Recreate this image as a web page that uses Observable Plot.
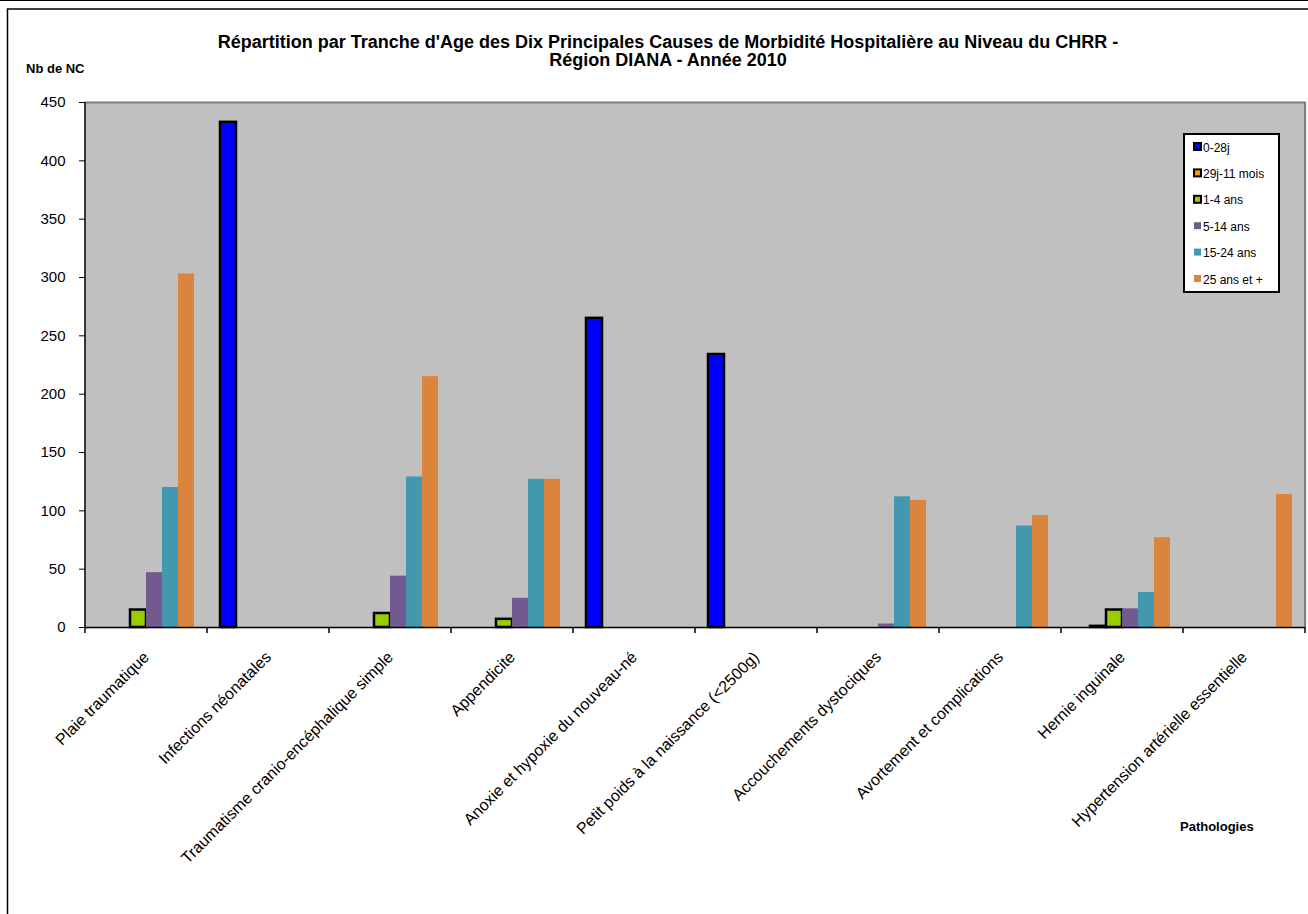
<!DOCTYPE html>
<html>
<head>
<meta charset="utf-8">
<script src="https://cdn.jsdelivr.net/npm/d3@7"></script>
<script src="https://cdn.jsdelivr.net/npm/@observablehq/plot@0.6"></script>
<style>
  html, body { margin: 0; padding: 0; background: #fff; }
  #chart svg { display: block; }
</style>
</head>
<body>
<div id="chart"></div>
<script>
// ---- Data ----
const categories = [
  "Plaie traumatique",
  "Infections néonatales",
  "Traumatisme cranio-encéphalique simple",
  "Appendicite",
  "Anoxie et hypoxie du nouveau-né",
  "Petit poids à la naissance (<2500g)",
  "Accouchements dystociques",
  "Avortement et complications",
  "Hernie inguinale",
  "Hypertension artérielle essentielle"
];
const ageGroups = ["0-28j", "29j-11 mois", "1-4 ans", "5-14 ans", "15-24 ans", "25 ans et +"];
const v0_28j   = [0, 433, 0, 0, 265, 234, 0, 0, 0, 0];
const v29j_11m = [0, 0, 0, 0, 0, 0, 0, 0, 1, 0];
const v1_4     = [15, 0, 12, 7, 0, 0, 0, 0, 15, 0];
const v5_14    = [47, 0, 44, 25, 0, 0, 3, 0, 16, 0];
const v15_24   = [120, 0, 129, 127, 0, 0, 112, 87, 30, 0];
const v25plus  = [303, 0, 215, 127, 0, 0, 109, 96, 77, 114];
const yTicks = [0, 50, 100, 150, 200, 250, 300, 350, 400, 450];
const colors = ["#0000FF", "#FF9900", "#99CC00", "#725A91", "#4198AF", "#DB843D"];
const bordered = ["0-28j", "29j-11 mois", "1-4 ans"];
const titleLines = [
  "Répartition par Tranche d'Age des Dix Principales Causes de Morbidité Hospitalière au Niveau du CHRR -",
  "Région DIANA - Année 2010"
];
const yTitle = "Nb de NC";
const xTitle = "Pathologies";

const series = [v0_28j, v29j_11m, v1_4, v5_14, v15_24, v25plus];
const rows = [];
categories.forEach((c, i) => {
  ageGroups.forEach((a, j) => {
    const v = series[j][i];
    if (v > 0) rows.push({cat: c, age: a, value: v});
  });
});

const FONT = "'Liberation Sans', Arial, sans-serif";

const chart = Plot.plot({
  width: 1308,
  height: 914,
  marginLeft: 85,
  marginRight: 3,
  marginTop: 102,
  marginBottom: 287,
  style: {fontFamily: FONT, fontSize: "15px", color: "#000", background: "transparent", overflow: "visible"},
  fx: {domain: categories, padding: 0, label: null},
  x: {domain: ageGroups, paddingInner: 0, paddingOuter: 0.7, axis: null},
  y: {domain: [0, 450], label: null},
  color: {domain: ageGroups, range: colors},
  marks: [
    Plot.frame({fill: "#C0C0C0", stroke: "#C0C0C0", strokeWidth: 1.5}),
    Plot.ruleY([450], {stroke: "#808080", strokeWidth: 2}),
    Plot.barY(rows, {
      fx: "cat", x: "age", y: "value", fill: "age",
      stroke: d => bordered.includes(d.age) ? "#000" : "none",
      strokeWidth: 2.5
    }),
    Plot.ruleY([0], {stroke: "#000", strokeWidth: 1.5}),
    Plot.axisY({ticks: yTicks, tickSize: 6, tickPadding: 14, fontSize: 15, stroke: "#000"}),
    Plot.axisFx({anchor: "bottom", tickRotate: -45, tickSize: 0, tickPadding: 27, fontSize: 16, label: null})
  ]
});

document.getElementById("chart").appendChild(chart);

// ---- Extras drawn in the same SVG, positioned from Plot's scales ----
const svg = d3.select(chart);
const fx = chart.scale("fx");
const y = chart.scale("y");
const y0 = y.apply(0), yTop = y.apply(450);
const step = fx.step !== undefined ? fx.step : fx.bandwidth;
const starts = categories.map(c => fx.apply(c));
const left = starts[0];
const right = starts[starts.length - 1] + step;

// outer chart border
svg.append("line").attr("x1", 0).attr("x2", 1308).attr("y1", 0.5).attr("y2", 0.5).attr("stroke", "#000");
svg.append("rect").attr("x", 7.5).attr("y", 9).attr("width", 1400).attr("height", 1000)
  .attr("fill", "none").attr("stroke", "#000").attr("stroke-width", 1.5);

// right border of plot area
svg.append("line").attr("x1", right).attr("x2", right).attr("y1", yTop).attr("y2", y0)
  .attr("stroke", "#808080").attr("stroke-width", 2);
// y axis line
svg.append("line").attr("x1", left).attr("x2", left).attr("y1", yTop).attr("y2", y0)
  .attr("stroke", "#000").attr("stroke-width", 1.5);
// category boundary ticks
categories.concat([null]).forEach((c, i) => {
  const xx = i < categories.length ? starts[i] : right;
  svg.append("line").attr("x1", xx).attr("x2", xx).attr("y1", y0).attr("y2", y0 + 6)
    .attr("stroke", "#000").attr("stroke-width", 1.5);
});

// titles
const tt = svg.append("text").attr("text-anchor", "middle").attr("font-family", FONT)
  .attr("font-weight", "bold").attr("font-size", 18).attr("fill", "#000");
titleLines.forEach((t, i) => tt.append("tspan").attr("x", 668).attr("y", 48 + i * 18).text(t));
svg.append("text").attr("x", 26).attr("y", 73).attr("text-anchor", "start").attr("font-family", FONT)
  .attr("font-weight", "bold").attr("font-size", 13).text(yTitle);
svg.append("text").attr("x", 1180).attr("y", 831).attr("text-anchor", "start").attr("font-family", FONT)
  .attr("font-weight", "bold").attr("font-size", 13).text(xTitle);

// legend
const lg = svg.append("g");
lg.append("rect").attr("x", 1184).attr("y", 134).attr("width", 95).attr("height", 158)
  .attr("fill", "#fff").attr("stroke", "#000").attr("stroke-width", 2);
ageGroups.forEach((a, i) => {
  const cy = 147 + i * 26.4;
  const b = bordered.includes(a);
  lg.append("rect").attr("x", 1194).attr("y", cy - 4).attr("width", 7).attr("height", 7)
    .attr("fill", colors[i]).attr("stroke", b ? "#000" : "none").attr("stroke-width", b ? 2 : 0);
  lg.append("text").attr("x", 1203).attr("y", cy + 4.5).attr("text-anchor", "start")
    .attr("font-family", FONT).attr("font-size", 12).text(a);
});
</script>
</body>
</html>
